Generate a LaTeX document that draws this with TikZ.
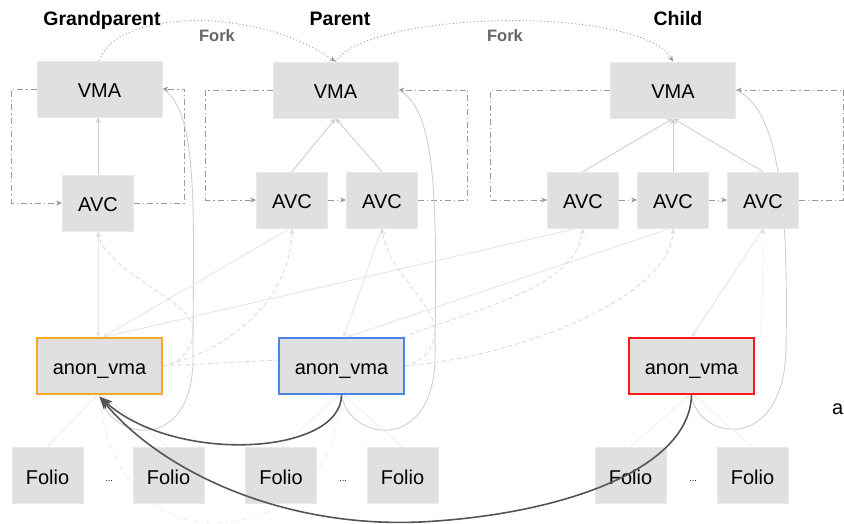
\documentclass[tikz,border=0pt]{standalone}
\usepackage{fontspec}
\setmainfont{Liberation Sans}
\usetikzlibrary{arrows.meta,calc}

\definecolor{boxfill}{HTML}{E0E0E0}
\definecolor{boxline}{HTML}{E9E9E9}
\definecolor{loopgray}{HTML}{9A9A9A}
\definecolor{linkgray}{HTML}{CFCFCF}
\definecolor{palegray}{HTML}{DCDCDC}
\definecolor{softgray}{HTML}{E6E6E6}
\definecolor{faintgray}{HTML}{EDEDED}
\definecolor{darklink}{HTML}{555555}
\definecolor{forkgray}{HTML}{666666}
\definecolor{gpborder}{HTML}{F9A825}
\definecolor{pborder}{HTML}{4A86E8}
\definecolor{cborder}{HTML}{FF1A1A}

\pgfdeclarelayer{bg}
\pgfsetlayers{bg,main}

\tikzset{
  box/.style={fill=boxfill, draw=boxline, line width=0.8pt, minimum height=56pt,
    inner sep=0pt, text height=19pt, text depth=2pt, font=\fontsize{20}{24}\selectfont},
  vmabox/.style={box, minimum width=125pt},
  avcbox/.style={box, minimum width=71pt},
  foliobox/.style={box, minimum width=71pt},
  anonbox/.style={box, minimum width=125pt, line width=1.2pt},
  titletext/.style={font=\fontsize{19.5}{23}\selectfont\bfseries, anchor=base},
  forktext/.style={font=\fontsize{16.5}{20}\selectfont\bfseries, text=forkgray, anchor=base},
  ellipsis/.style={font=\fontsize{9}{10}\selectfont, anchor=base},
  smalltip/.style={-{Stealth[length=6pt,width=5pt]}},
  forkline/.style={draw=loopgray, line width=0.9pt, dash pattern=on 1pt off 2.5pt, smalltip},
  chain/.style={draw=loopgray, line width=0.9pt, dash pattern=on 6pt off 3pt on 1.5pt off 3pt, smalltip},
  uplink/.style={draw=linkgray, line width=0.9pt, smalltip},
  backcurve/.style={draw=linkgray, line width=0.9pt},
  avcanon/.style={draw=softgray, line width=0.9pt, smalltip},
  rbdash/.style={draw=palegray, line width=0.9pt, dash pattern=on 4.5pt off 3pt, smalltip},
  rbdot/.style={draw=palegray, line width=0.9pt, dash pattern=on 1pt off 2pt, smalltip},
  foliolink/.style={draw=faintgray, line width=0.8pt, -{Stealth[length=5pt,width=4pt]}},
  rootdash/.style={draw=faintgray, line width=0.9pt, dash pattern=on 5pt off 3pt on 1pt off 3pt},
  parentlink/.style={draw=darklink, line width=1.6pt, -{Stealth[length=13pt,width=10pt]}},
}

\begin{document}
\begin{tikzpicture}[x=1pt,y=-1pt]
\useasboundingbox (0,0) rectangle (844,524);

% column headings and fork labels
\node[titletext] (tgp) at (102,26) {Grandparent};
\node[titletext] (tpa) at (340,26) {Parent};
\node[titletext] (tch) at (678,26) {Child};
\node[forktext] (fork1) at (217,42) {Fork};
\node[forktext] (fork2) at (505,42) {Fork};

% VMAs
\node[vmabox] (gvma) at (99.5,89) {VMA};
\node[vmabox] (pvma) at (335.5,90) {VMA};
\node[vmabox] (cvma) at (673,90) {VMA};

% anon_vma_chain entries
\node[avcbox] (gavc) at (98,203) {AVC};
\node[avcbox] (pavc1) at (292,200) {AVC};
\node[avcbox] (pavc2) at (382,200) {AVC};
\node[avcbox] (cavc1) at (583,200) {AVC};
\node[avcbox] (cavc2) at (673,200) {AVC};
\node[avcbox] (cavc3) at (763,200) {AVC};

% anon_vma objects
\node[anonbox, draw=gpborder] (ganon) at (99.5,366) {anon\_vma};
\node[anonbox, draw=pborder] (panon) at (341.5,366) {anon\_vma};
\node[anonbox, draw=cborder] (canon) at (691.5,366) {anon\_vma};

% folios
\node[foliobox] (gf1) at (47.5,475.5) {Folio};
\node[foliobox] (gf2) at (168.5,475.5) {Folio};
\node[foliobox] (pf1) at (281,475.5) {Folio};
\node[foliobox] (pf2) at (402.5,475.5) {Folio};
\node[foliobox] (cf1) at (630.5,475.5) {Folio};
\node[foliobox] (cf2) at (752.5,475.5) {Folio};
\node[ellipsis] (gdots) at (109,481) {...};
\node[ellipsis] (pdots) at (343,481) {...};
\node[ellipsis] (cdots) at (693,481) {...};

% lone letter at the right margin
\node[anchor=base east, inner sep=0pt, font=\fontsize{20}{24}\selectfont] (edgea) at (843.5,414) {a};

\begin{pgfonlayer}{bg}
  % fork relations between VMAs
  \draw[forkline] (gvma.north) .. controls (115,10) and (255,5) .. (pvma.north);
  \draw[forkline] (pvma.north) .. controls (370,10) and (640,5) .. (cvma.north);

  % same_vma lists
  \draw[chain] (gvma.west) -- ++(-25,0) |- (gavc.west);
  \draw[chain] (gavc.east) -- ++(51,0) |- (gvma.east);
  \draw[chain] (pvma.west) -- ++(-67,0) |- (pavc1.west);
  \draw[chain] (pavc1) -- (pavc2);
  \draw[chain] (pavc2.east) -- ++(50,0) |- (pvma.east);
  \draw[chain] (cvma.west) -- ++(-119.5,0) |- (cavc1.west);
  \draw[chain] (cavc1) -- (cavc2);
  \draw[chain] (cavc2) -- (cavc3);
  \draw[chain] (cavc3.east) -- ++(45,0) |- (cvma.east);

  % avc->vma
  \draw[uplink] (gavc.north) -- (gavc.north |- gvma.south);
  \draw[uplink] (pavc1.north) -- (pvma.south);
  \draw[uplink] (pavc2.north) -- (pvma.south);
  \draw[uplink] (cavc1.north) -- (cvma.south);
  \draw[uplink] (cavc2.north) -- (cvma.south);
  \draw[uplink] (cavc3.north) -- (cvma.south);

  % anon_vma back to its VMA
  \draw[backcurve] (ganon.south) .. controls (108,440) and (192,455) .. (193,360)
    .. controls (193,220) and (200,110) .. (gvma.east);
  \draw[backcurve] (panon.south) .. controls (348,440) and (432,455) .. (435,360)
    .. controls (436,220) and (440,110) .. (pvma.east);
  \draw[backcurve] (canon.south) .. controls (697,440) and (783,455) .. (786,350)
    .. controls (788,230) and (784,110) .. (cvma.east);

  % avc->anon_vma
  \draw[avcanon, {Stealth[length=6pt,width=5pt]}-{Stealth[length=6pt,width=5pt]}]
    (gavc.south) -- (gavc.south |- ganon.north);
  \draw[avcanon] ([xshift=-2pt]pavc1.south) -- ([xshift=3pt]ganon.north);
  \draw[avcanon] ([xshift=-6pt]cavc1.south) -- ([xshift=3pt]ganon.north);
  \draw[avcanon] (pavc2.south) -- ([xshift=2pt]panon.north);
  \draw[avcanon] ([xshift=-3pt]cavc2.south) -- ([xshift=5pt]panon.north);
  \draw[avcanon] (cavc3.south) -- (canon.north);

  % anon_vma interval tree to its AVCs
  \draw[rbdash] (ganon.east) .. controls (185,362) and (195,345) .. (192,325)
    .. controls (188,300) and (105,270) .. (gavc.south);
  \draw[rbdash] (ganon.east) .. controls (230,350) and (290,300) .. (pavc1.south);
  \draw[rbdash, -] (ganon.east) -- ([yshift=6pt]panon.west);
  \draw[rbdash] (panon.east) .. controls (425,362) and (437,345) .. (434,325)
    .. controls (430,300) and (388,270) .. (pavc2.south);
  \draw[rbdash] ([xshift=-2pt]panon.north east) .. controls (470,310) and (575,290) .. (cavc1.south);
  \draw[rbdash] (panon.east) .. controls (510,358) and (670,300) .. (cavc2.south);
  \draw[rbdot] (canon.east) .. controls (762,355) and (763,280) .. (cavc3.south);

  % folio->mapping
  \draw[foliolink] (gf1.north) -- ([xshift=-2pt]ganon.south);
  \draw[foliolink] (gf2.north) -- ([xshift=2pt]ganon.south);
  \draw[foliolink] (pf1.north) -- ([xshift=-2pt]panon.south);
  \draw[foliolink] (pf2.north) -- ([xshift=2pt]panon.south);
  \draw[foliolink] (cf1.north) -- ([xshift=-2pt]canon.south);
  \draw[foliolink] (cf2.north) -- ([xshift=2pt]canon.south);

  % root link below the folios
  \draw[rootdash] (panon.south) .. controls (335,480) and (280,522) .. (215,523)
    .. controls (150,524) and (105,470) .. (ganon.south);
\end{pgfonlayer}

% parent links to the grandparent anon_vma
\draw[parentlink] (panon.south) .. controls (342,455) and (175,465) .. ([yshift=-2pt]ganon.south);
\draw[parentlink] (canon.south) .. controls (690,470) and (560,515) .. (420,522)
  .. controls (280,528) and (160,470) .. ([yshift=-2pt]ganon.south);
\end{tikzpicture}
\end{document}
